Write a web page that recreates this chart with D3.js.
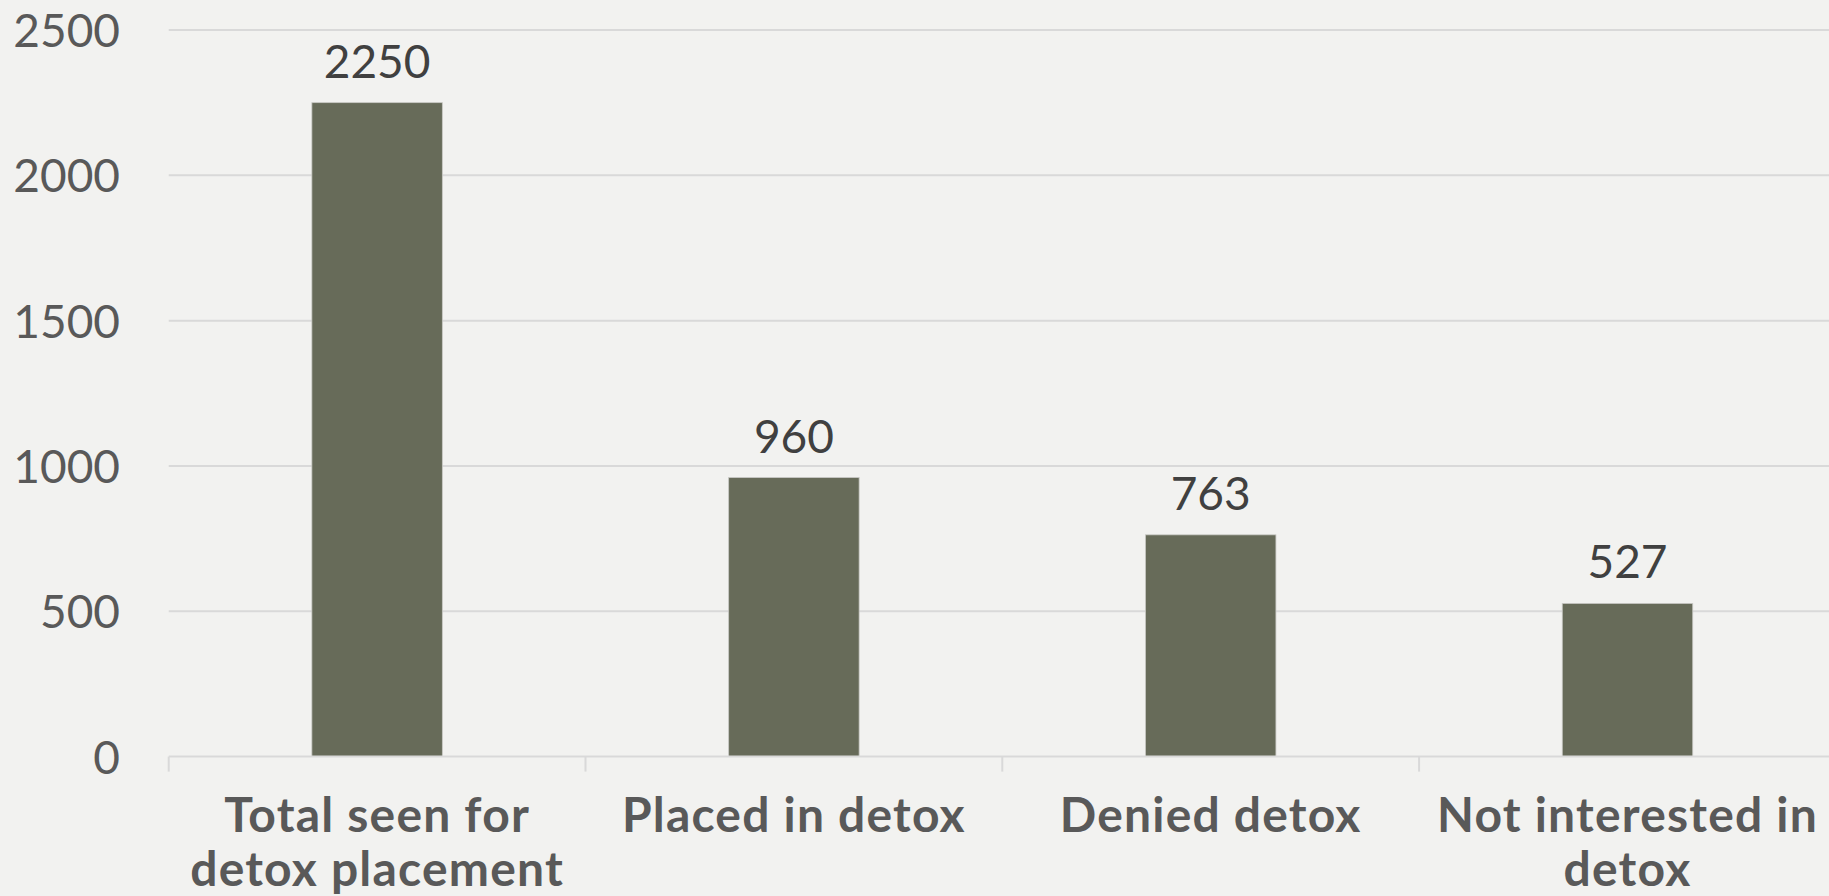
<!DOCTYPE html>
<html>
<head>
<meta charset="utf-8">
<script src="https://cdn.jsdelivr.net/npm/d3@7"></script>
<style>
  html, body { margin: 0; padding: 0; background: #f2f2f0; overflow: hidden; }
  svg { display: block; }
</style>
</head>
<body>
<svg id="chart" width="1829" height="896"></svg>
<script>
const categories = ["Total seen for detox placement", "Placed in detox", "Denied detox", "Not interested in detox"];
const categoryLines = [["Total seen for", "detox placement"], ["Placed in detox"], ["Denied detox"], ["Not interested in", "detox"]];
const values = [2250, 960, 763, 527];
const yTicks = [0, 500, 1000, 1500, 2000, 2500];

const W = 1829, H = 896;
const left = 168.7, bandEnd = 1835.9;
const yTop = 30, yBottom = 756.6;

const svg = d3.select("#chart");
svg.append("rect").attr("width", W).attr("height", H).attr("fill", "#f2f2f0");

const x = d3.scaleBand().domain(categories).range([left, bandEnd])
  .paddingInner(0.687).paddingOuter(0.3435);
const y = d3.scaleLinear().domain([0, 2500]).range([yBottom, yTop]);

const font = "Lato, 'Open Sans', sans-serif";

// gridlines
svg.append("g").selectAll("line").data(yTicks.filter(d => d > 0)).join("line")
  .attr("x1", left).attr("x2", W)
  .attr("y1", d => y(d)).attr("y2", d => y(d))
  .attr("stroke", "#d9d9d9").attr("stroke-width", 2);

// y axis labels
const yAxis = d3.axisLeft(y).tickValues(yTicks).tickSize(0).tickPadding(0).tickFormat(d3.format("d"));
const gy = svg.append("g").attr("transform", `translate(120,0)`).call(yAxis);
gy.select(".domain").remove();
gy.selectAll("text").attr("font-family", font).attr("font-size", 46).attr("fill", "#595959")
  .attr("dy", "0.36em");

// bars
svg.append("g").selectAll("rect").data(values).join("rect")
  .attr("x", (d, i) => x(categories[i]))
  .attr("width", x.bandwidth())
  .attr("y", d => y(d))
  .attr("height", d => y(0) - y(d))
  .attr("fill", "#676b59")
  .attr("stroke", "#c8c8c4").attr("stroke-width", 0.8);

// x axis
const xAxis = d3.axisBottom(x).tickSize(0).tickFormat("");
const gx = svg.append("g").attr("transform", `translate(0,${y(0)})`).call(xAxis);
gx.select(".domain").remove();
svg.append("line").attr("x1", left).attr("x2", W).attr("y1", y(0)).attr("y2", y(0))
  .attr("stroke", "#d9d9d9").attr("stroke-width", 2);
const tickPos = categories.map(c => x(c) - x.step() * x.paddingInner() / 2);
svg.append("g").selectAll("line").data(tickPos).join("line")
  .attr("x1", d => d).attr("x2", d => d)
  .attr("y1", y(0)).attr("y2", y(0) + 15)
  .attr("stroke", "#d9d9d9").attr("stroke-width", 2);

// category labels
const lab = svg.append("g").selectAll("text").data(categoryLines).join("text")
  .attr("text-anchor", "middle")
  .attr("font-family", font).attr("font-weight", "bold").attr("font-size", 48)
  .attr("letter-spacing", 1.2)
  .attr("fill", "#595959");
lab.each(function(lines, i) {
  const cx = x(categories[i]) + x.bandwidth() / 2;
  d3.select(this).selectAll("tspan").data(lines).join("tspan")
    .attr("x", cx).attr("y", (d, j) => 831.7 + j * 54.3).text(d => d);
});

// data labels
svg.append("g").selectAll("text").data(values).join("text")
  .attr("x", (d, i) => x(categories[i]) + x.bandwidth() / 2)
  .attr("y", d => y(d) - 25)
  .attr("text-anchor", "middle")
  .attr("font-family", font).attr("font-size", 46).attr("fill", "#404040")
  .text(d => d);
</script>
</body>
</html>
